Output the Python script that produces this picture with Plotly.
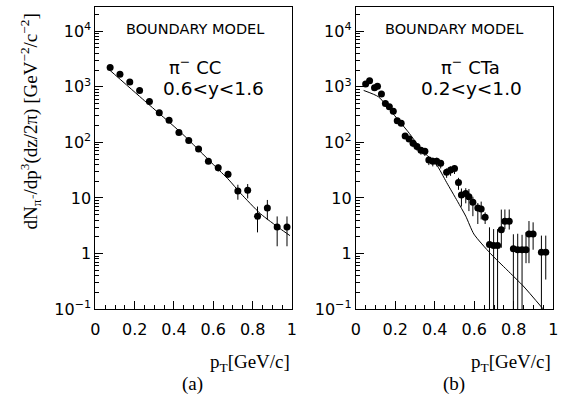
import plotly.graph_objects as go

# ---------------- data: panel (a)  pi- CC, 0.6<y<1.6 ----------------
pt_a = [0.075, 0.125, 0.175, 0.225, 0.275, 0.325, 0.375, 0.425, 0.475, 0.525,
        0.575, 0.625, 0.675, 0.725, 0.775, 0.825, 0.875, 0.925, 0.975]
dn_a = [2220, 1690, 1224, 861, 546, 340, 250, 150, 108, 76,
        46, 35, 26.7, 13.3, 13.8, 4.7, 6.6, 3.0, 3.0]
err_a = [0, 0, 0, 0, 0, 0, 0, 0, 0, 0,
         5, 5, 4, 4, 4, 2.3, 2.6, 1.65, 1.65]
model_pt_a = [0.06, 0.25, 0.44, 0.60, 0.68, 0.74, 0.84, 0.94, 0.99]
model_a = [2190, 562, 145, 40, 21, 12, 5.2, 2.8, 2.1]

# ---------------- data: panel (b)  pi- CTa, 0.2<y<1.0 ----------------
pt_b = [0.05, 0.07, 0.095, 0.11, 0.13, 0.15, 0.17, 0.19, 0.21, 0.23,
        0.25, 0.27, 0.29, 0.31, 0.33, 0.35, 0.37, 0.39, 0.41, 0.43,
        0.46, 0.48, 0.50, 0.52, 0.535, 0.557, 0.573, 0.593, 0.618, 0.635,
        0.655, 0.677, 0.698, 0.718, 0.737, 0.755, 0.777, 0.798, 0.82, 0.842,
        0.862, 0.877, 0.898, 0.94, 0.962]
dn_b = [1130, 1290, 960, 1020, 740, 500, 440, 365, 245, 222,
        131, 115, 97, 84, 72, 69, 48, 46, 46, 42,
        29, 32, 34, 19, 11.3, 12, 10.5, 8.4, 6.6, 6.3,
        4.5, 1.46, 1.4, 1.4, 2.67, 3.8, 3.8, 1.22, 1.17, 1.17,
        1.17, 2.24, 2.24, 1.05, 1.05]
errp_b = [0, 0, 0, 0, 0, 0, 0, 0, 0, 0,
          0, 0, 12, 10, 9, 9, 7, 7, 7, 6,
          5, 5, 5, 4, 3.5, 3, 4, 2.1, 1.5, 2.3,
          1.0, 1.5, 1.35, 1.35, 3.5, 2.4, 2.4, 1.0, 1.1, 1.0,
          1.25, 1.6, 1.4, 1.05, 1.05]
errm_b = [0, 0, 0, 0, 0, 0, 0, 0, 0, 0,
          0, 0, 15, 13, 12, 12, 9, 9, 9, 8,
          6, 7, 7, 5, 4.3, 4, 4.7, 3.7, 3.2, 2.2,
          1.1, 1.5, 1.45, 1.45, 1.4, 1.05, 1.1, 1.25, 1.2, 1.2,
          0.5, 1.57, 1.07, 1.1, 0.71]
model_pt_b = [0.04, 0.115, 0.19, 0.265, 0.34, 0.407, 0.46, 0.515, 0.557,
              0.598, 0.682, 0.765, 0.848, 0.948]
model_b = [861, 661, 324, 155, 69, 40.7, 19, 8.7, 4.7,
           2.24, 1.0, 0.51, 0.26, 0.101]

# ---------------- tick labels ----------------
y_tickvals = [0.1, 1, 10, 100, 1000, 10000]
y_ticktext = ["10<sup>−1</sup>", "1", "10", "10<sup>2</sup>", "10<sup>3</sup>", "10<sup>4</sup>"]
x_tickvals = [0, 0.2, 0.4, 0.6, 0.8, 1.0]
x_ticktext = ["0", "0.2", "0.4", "0.6", "0.8", "1"]

y_minor = [m * 10.0 ** k for k in range(-1, 5) for m in range(2, 10) if m * 10.0 ** k < 27000]
x_minor = [i * 0.05 for i in range(21)]

W, H = 573, 400
fig = go.Figure()


def add_panel(xref, yref, pt, dn, ep, em, mpt, mval):
    fig.add_trace(go.Scatter(
        x=mpt, y=mval, mode="lines", xaxis=xref, yaxis=yref,
        line=dict(color="black", width=1, shape="spline", smoothing=0.6),
        hoverinfo="skip"))
    fig.add_trace(go.Scatter(
        x=pt, y=dn, mode="markers", xaxis=xref, yaxis=yref,
        marker=dict(color="black", size=7, symbol="circle"),
        error_y=dict(type="data", array=ep, arrayminus=em, symmetric=False,
                     color="black", thickness=1, width=0)))


add_panel("x", "y", pt_a, dn_a, err_a, err_a, model_pt_a, model_a)
add_panel("x2", "y2", pt_b, dn_b, errp_b, errm_b, model_pt_b, model_b)

tickfont = dict(family="DejaVu Sans", size=16, color="black")
ydom = [1 - 317 / H, 1 - 7 / H]

xcommon = dict(range=[0, 1], showline=True, mirror=True, linecolor="black", linewidth=1,
               ticks="inside", ticklen=8, tickcolor="black", tickwidth=1,
               tickmode="array", tickvals=x_tickvals, ticktext=x_ticktext,
               minor=dict(ticks="inside", ticklen=4, tickcolor="black", tickwidth=1,
                          tickmode="array", tickvals=x_minor),
               showgrid=False, zeroline=False, tickfont=tickfont, ticklabelstandoff=6)
ycommon = dict(type="log", range=[-1, 4.44], domain=ydom, showline=True, mirror=True,
               linecolor="black", linewidth=1,
               ticks="inside", ticklen=8, tickcolor="black", tickwidth=1,
               tickmode="array", tickvals=y_tickvals, ticktext=y_ticktext,
               minor=dict(ticks="inside", ticklen=4, tickcolor="black", tickwidth=1,
                          tickmode="array", tickvals=y_minor),
               showgrid=False, zeroline=False, tickfont=tickfont)

fig.update_layout(
    width=W, height=H, margin=dict(l=0, r=0, t=0, b=0),
    paper_bgcolor="white", plot_bgcolor="white", showlegend=False,
    xaxis=dict(domain=[92 / W, 292 / W], anchor="y", **xcommon),
    yaxis=dict(anchor="x", **ycommon),
    xaxis2=dict(domain=[357 / W, 558 / W], anchor="y2", **xcommon),
    yaxis2=dict(anchor="x2", **ycommon),
)


def ann(text, x, y, size, family="DejaVu Sans", xanchor="center", angle=0):
    fig.add_annotation(text=text, x=x / W, y=1 - y / H, xref="paper", yref="paper",
                       xanchor=xanchor, yanchor="middle", showarrow=False, textangle=angle,
                       font=dict(family=family, size=size, color="black"))


sans = "DejaVu Sans"
serif = "Liberation Serif"
ann("BOUNDARY MODEL", 193, 30, 14.5)
ann("BOUNDARY MODEL", 457, 30, 14.5)
ann("π<sup>−</sup> CC", 193, 68, 18)
ann("0.6<y<1.6", 212, 91, 18.5)
ann("π<sup>−</sup> CTa", 474, 68, 18)
ann("0.2<y<1.0", 475, 91, 18.5)
ann("p<sub>T</sub>[GeV/c]", 292, 372, 19, family=serif, xanchor="right")
ann("p<sub>T</sub>[GeV/c]", 558, 372, 19, family=serif, xanchor="right")
ann("(a)", 191, 394, 19, family=serif)
ann("(b)", 457, 394, 19, family=serif)
ann("dN<sub>π⁻</sub>/dp<sup>3</sup>(dz/2π) [GeV<sup>−2</sup>/c<sup>−2</sup>]",
    26, 125, 19, family=serif, angle=-90)

fig.write_html("out.html")
